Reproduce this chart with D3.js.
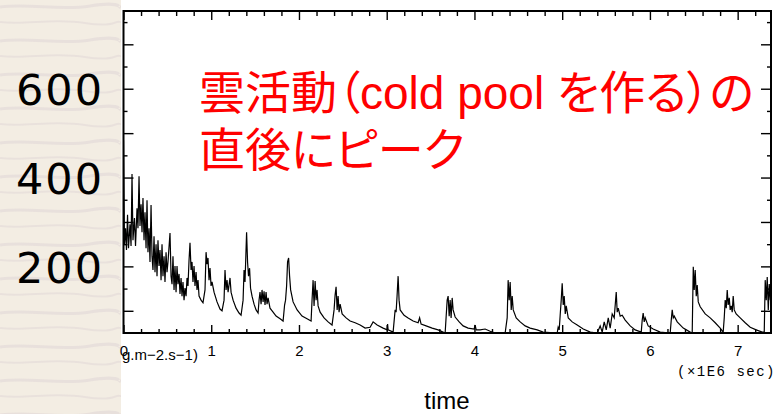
<!DOCTYPE html>
<html>
<head>
<meta charset="utf-8">
<script src="https://cdn.jsdelivr.net/npm/d3@7"></script>
<style>
  body { margin: 0; background: #fff; }
  svg { display: block; }
</style>
</head>
<body>
<svg id="chart" width="778" height="414"></svg>
<script>
// Surface flux time series: [time (x1E6 sec), value]
const fluxSeries = [
  [0.000,484],[0.011,248],[0.023,286],[0.034,237],[0.046,316],[0.057,241],[0.074,295],[0.086,246],
  [0.097,408],[0.108,259],[0.125,309],[0.137,246],[0.154,331],[0.165,286],[0.177,403],[0.188,291],
  [0.200,340],[0.211,277],[0.222,354],[0.234,259],[0.245,322],[0.257,241],[0.268,349],[0.279,232],
  [0.291,286],[0.302,210],[0.314,338],[0.325,223],[0.336,192],[0.348,268],[0.359,187],[0.371,250],
  [0.382,178],[0.393,259],[0.405,201],[0.416,237],[0.428,169],[0.439,250],[0.450,178],[0.462,223],
  [0.473,165],[0.485,232],[0.496,187],[0.507,210],[0.530,275],[0.542,178],[0.553,160],[0.564,223],
  [0.576,147],[0.587,201],[0.599,142],[0.610,201],[0.621,160],[0.633,183],[0.644,138],[0.656,174],
  [0.667,133],[0.678,165],[0.690,124],[0.701,151],[0.713,133],[0.724,174],[0.735,156],[0.747,214],
  [0.758,253],[0.770,192],[0.781,210],[0.792,165],[0.804,201],[0.815,156],[0.827,187],[0.838,147],
  [0.849,169],[0.861,133],[0.884,124],[0.906,118],[0.929,147],[0.941,232],[0.952,205],[0.963,219],
  [0.975,169],[0.986,196],[0.998,156],[1.009,165],[1.032,142],[1.066,120],[1.100,104],[1.123,100],
  [1.146,124],[1.157,192],[1.169,147],[1.180,169],[1.192,142],[1.214,174],[1.226,142],[1.249,124],
  [1.283,106],[1.317,95],[1.340,90],[1.363,124],[1.374,192],[1.385,165],[1.403,277],[1.414,210],
  [1.425,178],[1.437,196],[1.448,151],[1.465,133],[1.488,115],[1.511,102],[1.534,95],[1.545,124],
  [1.556,142],[1.568,115],[1.579,147],[1.591,120],[1.602,144],[1.613,113],[1.625,142],[1.636,115],
  [1.648,129],[1.670,106],[1.705,97],[1.739,88],[1.785,82],[1.819,77],[1.836,113],[1.847,124],
  [1.859,156],[1.870,210],[1.882,219],[1.893,178],[1.905,147],[1.933,120],[1.979,102],[2.035,88],
  [2.092,82],[2.138,77],[2.149,124],[2.161,169],[2.172,111],[2.184,167],[2.195,124],[2.206,147],
  [2.218,111],[2.241,97],[2.286,84],[2.332,75],[2.377,68],[2.400,102],[2.412,136],[2.423,154],
  [2.435,102],[2.446,133],[2.457,97],[2.469,115],[2.492,93],[2.537,84],[2.583,77],[2.640,73],
  [2.697,68],[2.754,61],[2.811,63],[2.845,75],[2.891,68],[2.959,61],[3.005,57],[3.010,70],
  [3.016,57],[3.073,52],[3.096,102],[3.107,97],[3.118,133],[3.130,178],[3.141,124],[3.153,102],
  [3.198,90],[3.244,84],[3.301,77],[3.358,73],[3.375,84],[3.392,70],[3.449,66],[3.518,61],
  [3.586,57],[3.666,50],[3.689,124],[3.700,133],[3.712,88],[3.723,124],[3.734,84],[3.746,129],
  [3.757,102],[3.780,86],[3.826,75],[3.871,66],[3.928,61],[3.997,59],[4.008,68],[4.020,57],
  [4.065,57],[4.122,59],[4.179,54],[4.236,50],[4.350,50],[4.373,84],[4.384,169],[4.396,124],
  [4.407,165],[4.419,102],[4.430,133],[4.442,102],[4.476,84],[4.521,75],[4.578,66],[4.635,61],
  [4.715,57],[4.783,52],[4.943,50],[4.954,63],[4.966,57],[4.977,90],[4.989,124],[5.000,162],
  [5.012,113],[5.023,133],[5.035,93],[5.046,111],[5.069,84],[5.114,75],[5.171,68],[5.240,59],
  [5.320,52],[5.399,50],[5.433,66],[5.456,52],[5.479,75],[5.502,57],[5.525,84],[5.547,61],
  [5.570,93],[5.593,84],[5.616,142],[5.627,97],[5.639,106],[5.661,88],[5.684,90],[5.718,79],
  [5.775,66],[5.832,57],[5.901,52],[5.912,79],[5.923,95],[5.935,75],[5.946,84],[5.980,66],
  [6.037,59],[6.117,52],[6.231,50],[6.243,79],[6.254,102],[6.266,84],[6.277,88],[6.311,75],
  [6.380,61],[6.459,52],[6.482,50],[6.494,199],[6.505,147],[6.516,192],[6.528,133],[6.539,158],
  [6.551,120],[6.573,109],[6.630,93],[6.687,84],[6.744,73],[6.801,61],[6.835,52],[6.847,84],
  [6.858,124],[6.870,106],[6.881,147],[6.892,113],[6.904,129],[6.915,102],[6.927,111],[6.938,97],
  [6.949,133],[6.961,102],[6.983,93],[7.029,84],[7.086,73],[7.143,63],[7.211,57],[7.280,52],
  [7.303,52],[7.314,169],[7.326,124],[7.337,176],[7.349,102],[7.360,160],[7.372,124]
];

// Axis ticks and labels
const xMajorTicks = [0, 1, 2, 3, 4, 5, 6, 7];
const xMinorTicks = d3.range(0, 37).map(i => i / 5).filter(d => d % 1 !== 0 && d <= 7.38);
const yMajorTicks = [100, 200, 300, 400, 500, 600, 700];
const yMinorTicks = [150, 250, 350, 450, 550, 650, 750];
const yLabelValues = [200, 400, 600];
const unitLabel = "g.m\u22122.s\u22121)";
const scaleLabel = "(\u00d71E6 sec)";
const timeLabel = "time";
const noteLines = ["雲活動（cold pool を作る）の", "直後にピーク"];

const size = {
    width: 778,
    height: 414,
    left: 123.5, right: 771, top: 11, bottom: 333
};

const svg = d3.select("#chart");

// Textured beige panel on the left
const defs = svg.append("defs");
const pat = defs.append("pattern")
    .attr("id", "paper")
    .attr("patternUnits", "userSpaceOnUse")
    .attr("width", 120).attr("height", 34);
pat.append("rect").attr("width", 120).attr("height", 34).attr("fill", "#f3ede3");
pat.append("path")
    .attr("d", "M0,7 C30,3 60,11 90,6 S120,8 120,7")
    .attr("fill", "none").attr("stroke", "#dcd0d3").attr("stroke-width", 3).attr("opacity", 0.45);
pat.append("path")
    .attr("d", "M0,22 C25,25 55,18 85,23 S115,20 120,22")
    .attr("fill", "none").attr("stroke", "#e0d6d6").attr("stroke-width", 2).attr("opacity", 0.5);

svg.append("rect").attr("x", 0).attr("y", 0).attr("width", size.width).attr("height", size.height).attr("fill", "#fff");
svg.append("rect").attr("x", 0).attr("y", 0).attr("width", 121).attr("height", size.height).attr("fill", "url(#paper)");

// Scales
const xScale = d3.scaleLinear().domain([0, 7.38]).range([size.left, size.right]);
const yScale = d3.scaleLinear().domain([50, 775]).range([size.bottom, size.top]);

defs.append("clipPath").attr("id", "plotclip")
  .append("rect")
    .attr("x", size.left).attr("y", size.top)
    .attr("width", size.right - size.left).attr("height", size.bottom - size.top);

// Red annotation
const note = svg.append("g")
    .attr("font-family", "'Liberation Sans', 'Noto Sans CJK JP', sans-serif")
    .attr("font-size", 46)
    .attr("fill", "#ff0000")
    .style("font-feature-settings", "'palt'");
note.selectAll("text")
    .data(noteLines)
    .join("text")
    .attr("x", 199)
    .attr("y", (d, i) => 109 + i * 57)
    .text(d => d);

// Series line
const line = d3.line()
    .x(d => xScale(d[0]))
    .y(d => yScale(d[1]));

svg.append("path")
    .datum(fluxSeries)
    .attr("clip-path", "url(#plotclip)")
    .attr("fill", "none")
    .attr("stroke", "#000")
    .attr("stroke-width", 1.2)
    .attr("stroke-linejoin", "miter")
    .attr("d", line);

// Axes with inward ticks on all four sides
function drawAxis(axis, transform) {
    const g = svg.append("g").attr("transform", transform).call(axis);
    g.select(".domain").remove();
    g.selectAll(".tick line").attr("stroke", "#000").attr("stroke-width", 1.4);
    return g;
}

const bottomMajor = drawAxis(
    d3.axisBottom(xScale).tickValues(xMajorTicks).tickSize(-8).tickPadding(12).tickFormat(d3.format("d")),
    `translate(0,${size.bottom})`);
bottomMajor.selectAll("text")
    .attr("font-family", "'Liberation Sans', Arial, sans-serif")
    .attr("font-size", 15)
    .attr("fill", "#000");
drawAxis(d3.axisBottom(xScale).tickValues(xMinorTicks).tickSize(-4).tickFormat(""), `translate(0,${size.bottom})`);
drawAxis(d3.axisTop(xScale).tickValues(xMajorTicks).tickSize(-9).tickFormat(""), `translate(0,${size.top})`);
drawAxis(d3.axisTop(xScale).tickValues(xMinorTicks).tickSize(-5).tickFormat(""), `translate(0,${size.top})`);
drawAxis(d3.axisLeft(yScale).tickValues(yMajorTicks).tickSize(-10).tickFormat(""), `translate(${size.left},0)`);
drawAxis(d3.axisLeft(yScale).tickValues(yMinorTicks).tickSize(-4).tickFormat(""), `translate(${size.left},0)`);
drawAxis(d3.axisRight(yScale).tickValues(yMajorTicks).tickSize(-10).tickFormat(""), `translate(${size.right},0)`);
drawAxis(d3.axisRight(yScale).tickValues(yMinorTicks).tickSize(-4).tickFormat(""), `translate(${size.right},0)`);

// Frame
svg.append("rect")
    .attr("x", size.left).attr("y", size.top)
    .attr("width", size.right - size.left).attr("height", size.bottom - size.top)
    .attr("fill", "none").attr("stroke", "#000").attr("stroke-width", 2);

// Large y labels on the beige panel
svg.append("g")
    .attr("font-family", "'DejaVu Sans', sans-serif")
    .attr("font-size", 43)
    .attr("letter-spacing", 2)
    .attr("fill", "#000")
  .selectAll("text")
    .data(yLabelValues)
    .join("text")
    .attr("x", 104)
    .attr("y", d => yScale(d))
    .attr("dy", "0.38em")
    .attr("text-anchor", "end")
    .text(d => d);

// Axis captions
svg.append("text")
    .attr("x", 122).attr("y", 360)
    .attr("font-family", "'Liberation Sans', Arial, sans-serif")
    .attr("font-size", 15)
    .text(unitLabel);

svg.append("text")
    .attr("x", 776).attr("y", 376)
    .attr("text-anchor", "end")
    .attr("font-family", "'Liberation Mono', monospace")
    .attr("font-size", 14)
    .attr("letter-spacing", 1.5)
    .text(scaleLabel);

svg.append("text")
    .attr("x", 447).attr("y", 409)
    .attr("text-anchor", "middle")
    .attr("font-family", "'Liberation Sans', Arial, sans-serif")
    .attr("font-size", 24)
    .text(timeLabel);
</script>
</body>
</html>
